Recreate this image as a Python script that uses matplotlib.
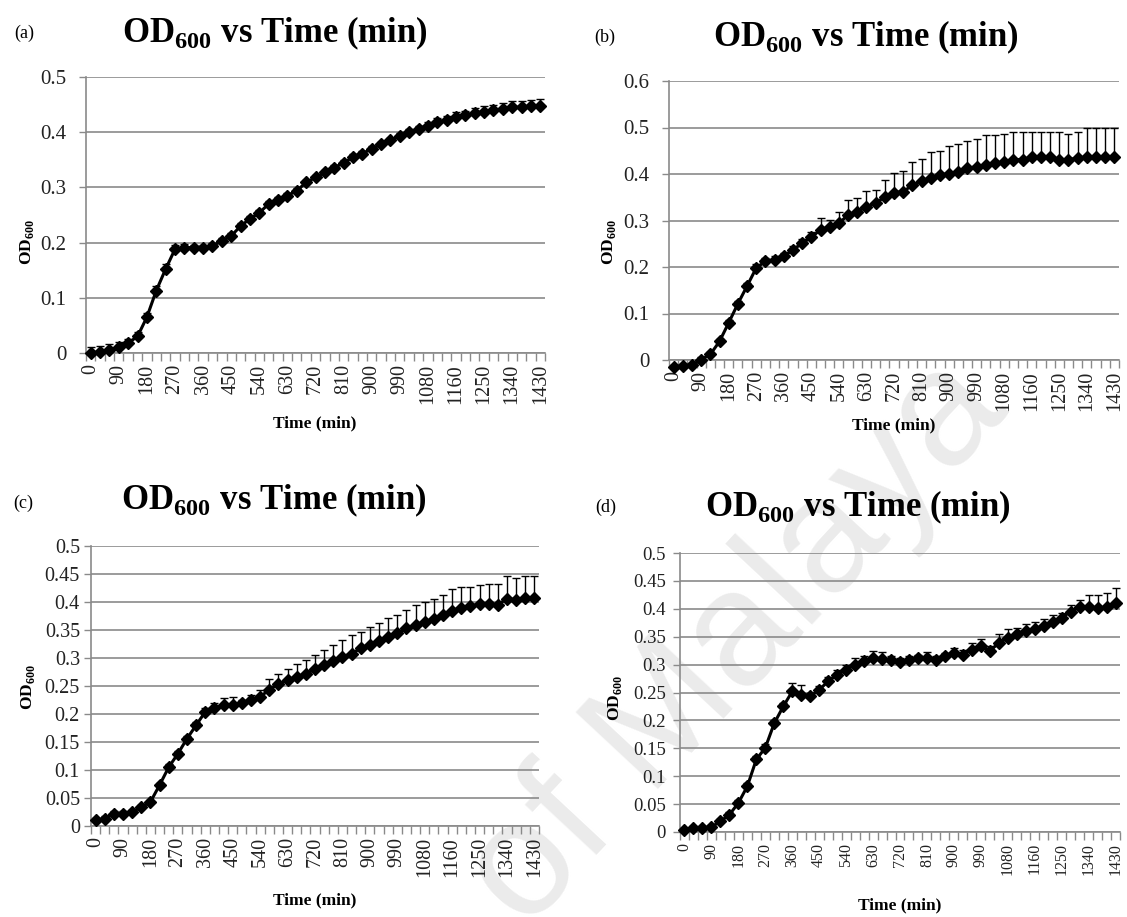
import numpy as np
import matplotlib
matplotlib.use("Agg")
import matplotlib.pyplot as plt

plt.rcParams['font.family'] = ['Liberation Serif', 'DejaVu Serif']
plt.rcParams['mathtext.fontset'] = 'custom'
plt.rcParams['mathtext.rm'] = 'Liberation Serif'
plt.rcParams['mathtext.bf'] = 'Liberation Serif:bold'

# ---------------- data ----------------
tick_labels = ["0", "90", "180", "270", "360", "450", "540", "630", "720", "810",
               "900", "990", "1080", "1160", "1250", "1340", "1430"]

od_a = [0.000, 0.002, 0.006, 0.010, 0.018, 0.030, 0.065, 0.113, 0.152, 0.188,
        0.191, 0.191, 0.190, 0.194, 0.203, 0.212, 0.230, 0.243, 0.254, 0.270,
        0.278, 0.285, 0.294, 0.309, 0.318, 0.327, 0.336, 0.344, 0.355, 0.361,
        0.370, 0.378, 0.385, 0.393, 0.400, 0.406, 0.412, 0.418, 0.423, 0.428,
        0.431, 0.435, 0.437, 0.440, 0.442, 0.445, 0.445, 0.447, 0.448]
err_a = [0.010, 0.010, 0.010, 0.010, 0.008, 0.008, 0.008, 0.008, 0.010, 0.008,
         0.006, 0.005, 0.005, 0.005, 0.005, 0.006, 0.006, 0.005, 0.005, 0.005,
         0.005, 0.005, 0.005, 0.005, 0.005, 0.005, 0.005, 0.005, 0.005, 0.005,
         0.005, 0.005, 0.005, 0.006, 0.006, 0.006, 0.006, 0.007, 0.007, 0.008,
         0.008, 0.009, 0.010, 0.010, 0.011, 0.012, 0.012, 0.012, 0.012]

od_b = [-0.016, -0.013, -0.011, 0.001, 0.012, 0.040, 0.080, 0.121, 0.159, 0.198,
        0.212, 0.216, 0.223, 0.237, 0.251, 0.264, 0.280, 0.287, 0.294, 0.312,
        0.319, 0.330, 0.337, 0.351, 0.360, 0.362, 0.376, 0.384, 0.391, 0.398,
        0.401, 0.405, 0.412, 0.416, 0.419, 0.423, 0.426, 0.431, 0.431, 0.436,
        0.436, 0.436, 0.431, 0.431, 0.434, 0.436, 0.437, 0.436, 0.436]
err_b = [0.005, 0.005, 0.005, 0.005, 0.005, 0.005, 0.006, 0.006, 0.007, 0.008,
         0.008, 0.008, 0.008, 0.008, 0.010, 0.012, 0.025, 0.015, 0.025, 0.032,
         0.029, 0.034, 0.029, 0.036, 0.043, 0.045, 0.050, 0.049, 0.057, 0.052,
         0.059, 0.059, 0.059, 0.060, 0.065, 0.061, 0.061, 0.060, 0.060, 0.055,
         0.055, 0.055, 0.060, 0.056, 0.057, 0.064, 0.063, 0.064, 0.064]

od_c = [0.010, 0.013, 0.022, 0.022, 0.025, 0.034, 0.043, 0.073, 0.105, 0.129,
        0.156, 0.180, 0.204, 0.210, 0.216, 0.216, 0.219, 0.225, 0.231, 0.243,
        0.254, 0.260, 0.266, 0.272, 0.280, 0.287, 0.295, 0.302, 0.308, 0.317,
        0.323, 0.331, 0.338, 0.344, 0.353, 0.359, 0.365, 0.369, 0.377, 0.384,
        0.389, 0.393, 0.396, 0.397, 0.395, 0.406, 0.404, 0.407, 0.408]
err_c = [0.004, 0.004, 0.004, 0.004, 0.004, 0.004, 0.004, 0.004, 0.005, 0.005,
         0.005, 0.005, 0.006, 0.009, 0.012, 0.015, 0.006, 0.009, 0.012, 0.020,
         0.018, 0.021, 0.024, 0.024, 0.025, 0.027, 0.028, 0.030, 0.033, 0.030,
         0.033, 0.031, 0.033, 0.033, 0.033, 0.036, 0.035, 0.036, 0.035, 0.040,
         0.038, 0.033, 0.034, 0.035, 0.038, 0.040, 0.038, 0.040, 0.039]

od_d = [0.004, 0.007, 0.007, 0.009, 0.019, 0.031, 0.052, 0.082, 0.130, 0.151,
        0.195, 0.225, 0.252, 0.246, 0.243, 0.255, 0.270, 0.282, 0.291, 0.300,
        0.306, 0.312, 0.310, 0.308, 0.304, 0.308, 0.312, 0.312, 0.308, 0.315,
        0.321, 0.318, 0.327, 0.334, 0.324, 0.339, 0.348, 0.354, 0.360, 0.364,
        0.369, 0.376, 0.384, 0.395, 0.403, 0.403, 0.401, 0.403, 0.410]
err_d = [0.004, 0.004, 0.004, 0.004, 0.004, 0.004, 0.005, 0.005, 0.006, 0.006,
         0.006, 0.006, 0.015, 0.018, 0.006, 0.006, 0.008, 0.009, 0.008, 0.012,
         0.010, 0.012, 0.012, 0.008, 0.008, 0.008, 0.006, 0.010, 0.008, 0.006,
         0.008, 0.008, 0.011, 0.011, 0.010, 0.015, 0.015, 0.012, 0.012, 0.012,
         0.012, 0.012, 0.008, 0.012, 0.013, 0.022, 0.024, 0.025, 0.027]

W, H = 1127, 917
fig = plt.figure(figsize=(W / 100, H / 100), dpi=100)


def px_rect(left, top, right, bottom):
    return [left / W, 1 - bottom / H, (right - left) / W, (bottom - top) / H]


panels = [
    dict(vals=od_a, err=err_a, rect=(86, 77, 545, 353), ymax=0.5, ystep=0.1,
         title=(275, 33), lab="(a)", labpos=(24, 33), ylab=(27, 242), xlab=(315, 423),
         xfs=14.5, yfs=15, ypad=9),
    dict(vals=od_b, err=err_b, rect=(669, 81, 1119, 360), ymax=0.6, ystep=0.1,
         title=(866, 37), lab="(b)", labpos=(605, 37), ylab=(609, 242), xlab=(894, 425),
         xfs=14.5, yfs=15, ypad=9),
    dict(vals=od_c, err=err_c, rect=(91, 546, 539, 826), ymax=0.5, ystep=0.05,
         title=(274, 500), lab="(c)", labpos=(23, 503), ylab=(28, 687), xlab=(315, 900),
         xfs=14.5, yfs=14.5, ypad=3),
    dict(vals=od_d, err=err_d, rect=(680, 553, 1120, 832), ymax=0.5, ystep=0.05,
         title=(858, 507), lab="(d)", labpos=(606, 507), ylab=(615, 698), xlab=(900, 905),
         xfs=11.5, yfs=13.5, ypad=5),
]

grid_col = "#8a8a8a"

for p in panels:
    vals = np.array(p["vals"])
    err = np.array(p["err"])
    n = len(vals)
    x = np.arange(n)
    ax = fig.add_axes(px_rect(*p["rect"]))
    ax.set_facecolor("none")
    ax.set_xlim(-0.5, n - 0.5)
    ax.set_ylim(0, p["ymax"])
    yt = np.round(np.arange(0, p["ymax"] + 1e-9, p["ystep"]), 3)
    ax.set_yticks(yt)
    ax.set_yticklabels(["{:g}".format(v) for v in yt], fontsize=p["yfs"], color="#222222")
    ax.yaxis.grid(True, color=grid_col, linewidth=1.2)
    ax.set_axisbelow(True)
    ax.tick_params(axis="y", length=5, width=1, color=grid_col, pad=p["ypad"])
    # category labels every third point
    lab_pos = x[::3]
    ax.set_xticks(lab_pos)
    ax.set_xticklabels(tick_labels, rotation=90, fontsize=p["xfs"], color="#222222")
    ax.tick_params(axis="x", which="major", length=0, pad=8)
    ax.set_xticks(np.arange(-0.5, n, 1.0), minor=True)
    ax.tick_params(axis="x", which="minor", length=6, width=1, color=grid_col, direction="out")
    for s in ["top", "right"]:
        ax.spines[s].set_visible(False)
    for s in ["left", "bottom"]:
        ax.spines[s].set_color(grid_col)
        ax.spines[s].set_linewidth(1.2)

    ax.errorbar(x, vals, yerr=[np.zeros(n), err], fmt="none", ecolor="black",
                elinewidth=1.0, capsize=3, capthick=1.0, clip_on=False, zorder=3)
    ax.plot(x, vals, color="black", linewidth=2.2, marker="D", markersize=6.0,
            markerfacecolor="black", markeredgecolor="black", markeredgewidth=1.0,
            clip_on=False, zorder=4)

    tx, ty = p["title"]
    fig.text(tx / W, 1 - ty / H, r"OD$_{\mathbf{600}}$ vs Time (min)", fontsize=25,
             fontweight="bold", ha="center", va="center")
    lx, ly = p["labpos"]
    fig.text(lx / W, 1 - ly / H, p["lab"], fontsize=13, ha="center", va="center")
    yx, yy = p["ylab"]
    fig.text(yx / W, 1 - yy / H, r"OD$_{\mathbf{600}}$", fontsize=12.5, fontweight="bold",
             rotation=90, ha="center", va="center")
    xx, xy = p["xlab"]
    fig.text(xx / W, 1 - xy / H, "Time (min)", fontsize=12.5, fontweight="bold",
             ha="center", va="center")

# faint watermark
fig.text(525 / W, 1 - 932 / H, "of Malaya", fontsize=118, color="#ebebeb",
         family=["Liberation Sans", "DejaVu Sans"], rotation=47, rotation_mode="anchor",
         ha="left", va="baseline", zorder=-1)

fig.savefig("out.png", dpi=100, facecolor="white")
